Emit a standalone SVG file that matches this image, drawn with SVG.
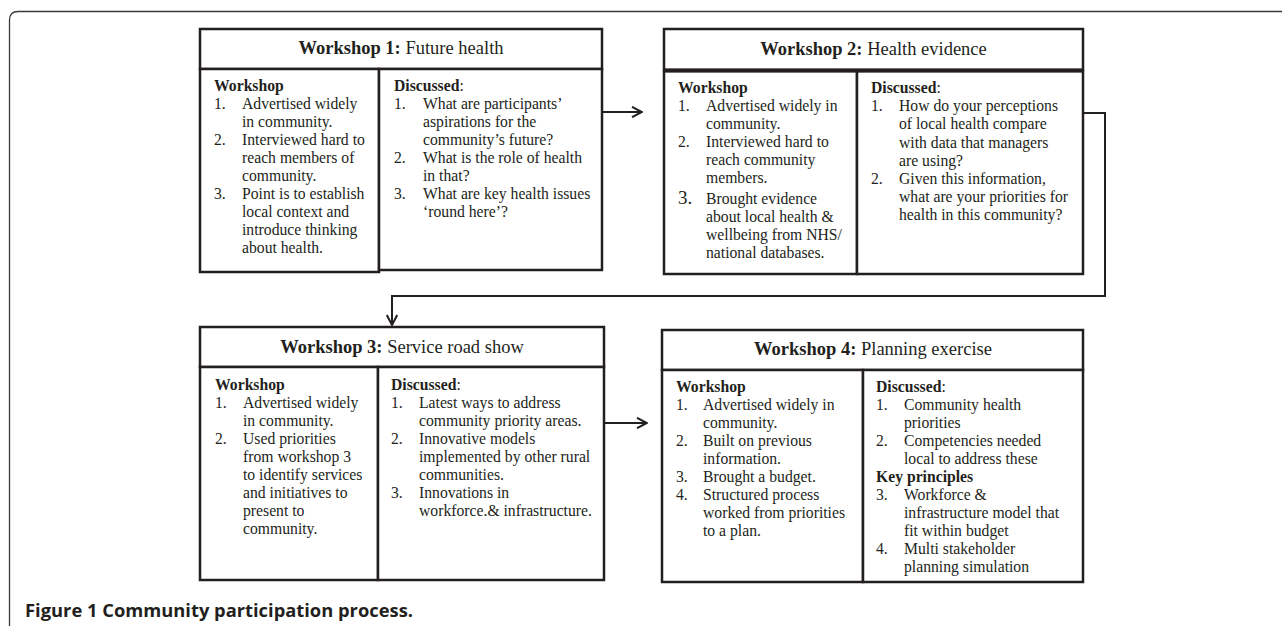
<svg xmlns="http://www.w3.org/2000/svg" width="1282" height="626" viewBox="0 0 1282 626">
<defs>
<style>
.box{fill:#fff;stroke:#231f20;stroke-width:2.5}
.t{font-family:"Liberation Serif","Times New Roman",serif;font-size:15.7px;fill:#231f20}
.ttl{font-family:"Liberation Serif","Times New Roman",serif;font-size:18.5px;fill:#231f20;text-anchor:middle}
.b{font-weight:bold}
.con{fill:none;stroke:#231f20;stroke-width:2}
.cap{font-family:"Open Sans","Noto Sans",sans-serif;font-weight:bold;font-size:17.5px;fill:#231f20}
</style>
<marker id="arr" viewBox="0 0 12 12" refX="11" refY="6" markerWidth="12" markerHeight="12" markerUnits="userSpaceOnUse" orient="auto">
<path d="M1,0.8 L11,6 L1,11.2" fill="none" stroke="#231f20" stroke-width="2"/>
</marker>
</defs>
<rect width="1282" height="626" fill="#fff"/>
<path d="M9.5,626 V20 Q9.5,11.5 18,11.5 H1282" fill="none" stroke="#3a3a3a" stroke-width="1.3"/>

<g id="connectors">
<path class="con" d="M602,112 H642" marker-end="url(#arr)"/>
<path class="con" d="M1083,113 H1105 V296 H392 V325" marker-end="url(#arr)"/>
<path class="con" d="M604,423 H647" marker-end="url(#arr)"/>
</g>

<g id="workshop1">
<rect class="box" x="200" y="29" width="402" height="40"/>
<rect class="box" x="200" y="69" width="179" height="203"/>
<rect class="box" x="379" y="69" width="223" height="201"/>
<text class="ttl" x="401" y="54"><tspan class="b">Workshop 1:</tspan> Future health</text>
<text class="t b" x="214" y="91">Workshop</text>
<text class="t" x="214" y="109">1.</text><text class="t" x="242" y="109">Advertised widely</text>
<text class="t" x="242" y="127">in community.</text>
<text class="t" x="214" y="145">2.</text><text class="t" x="242" y="145">Interviewed hard to</text>
<text class="t" x="242" y="163">reach members of</text>
<text class="t" x="242" y="181">community.</text>
<text class="t" x="214" y="199">3.</text><text class="t" x="242" y="199">Point is to establish</text>
<text class="t" x="242" y="217">local context and</text>
<text class="t" x="242" y="235">introduce thinking</text>
<text class="t" x="242" y="253">about health.</text>
<text class="t" x="394" y="91"><tspan class="b">Discussed</tspan>:</text>
<text class="t" x="394" y="109">1.</text><text class="t" x="423" y="109">What are participants’</text>
<text class="t" x="423" y="127">aspirations for the</text>
<text class="t" x="423" y="145">community’s future?</text>
<text class="t" x="394" y="163">2.</text><text class="t" x="423" y="163">What is the role of health</text>
<text class="t" x="423" y="181">in that?</text>
<text class="t" x="394" y="199">3.</text><text class="t" x="423" y="199">What are key health issues</text>
<text class="t" x="423" y="217">‘round here’?</text>
</g>

<g id="workshop2">
<rect class="box" x="664" y="29" width="419" height="41"/>
<rect class="box" x="664" y="71" width="193" height="203"/>
<rect class="box" x="857" y="71" width="226" height="203"/>
<line x1="664" y1="70.5" x2="1083" y2="70.5" stroke="#231f20" stroke-width="4"/>
<text class="ttl" x="873.5" y="55"><tspan class="b">Workshop 2:</tspan> Health evidence</text>
<text class="t b" x="678" y="93">Workshop</text>
<text class="t" x="678" y="111">1.</text><text class="t" x="706" y="111">Advertised widely in</text>
<text class="t" x="706" y="129">community.</text>
<text class="t" x="678" y="147">2.</text><text class="t" x="706" y="147">Interviewed hard to</text>
<text class="t" x="706" y="165">reach community</text>
<text class="t" x="706" y="183">members.</text>
<text class="t" x="678" y="204" style="font-size:19px">3.</text><text class="t" x="706" y="204">Brought evidence</text>
<text class="t" x="706" y="222">about local health &amp;</text>
<text class="t" x="706" y="240">wellbeing from NHS/</text>
<text class="t" x="706" y="258">national databases.</text>
<text class="t" x="871" y="93"><tspan class="b">Discussed</tspan>:</text>
<text class="t" x="871" y="111">1.</text><text class="t" x="899" y="111">How do your perceptions</text>
<text class="t" x="899" y="129">of local health compare</text>
<text class="t" x="899" y="147.5">with data that managers</text>
<text class="t" x="899" y="165.5">are using?</text>
<text class="t" x="871" y="184">2.</text><text class="t" x="899" y="184">Given this information,</text>
<text class="t" x="899" y="202">what are your priorities for</text>
<text class="t" x="899" y="220">health in this community?</text>
</g>

<g id="workshop3">
<rect class="box" x="200" y="327" width="404" height="40"/>
<rect class="box" x="200" y="367" width="178" height="213"/>
<rect class="box" x="378" y="367" width="226" height="213"/>
<text class="ttl" x="402" y="353"><tspan class="b">Workshop 3:</tspan> Service road show</text>
<text class="t b" x="215" y="390">Workshop</text>
<text class="t" x="215" y="408">1.</text><text class="t" x="243" y="408">Advertised widely</text>
<text class="t" x="243" y="426">in community.</text>
<text class="t" x="215" y="444">2.</text><text class="t" x="243" y="444">Used priorities</text>
<text class="t" x="243" y="462">from workshop 3</text>
<text class="t" x="243" y="480">to identify services</text>
<text class="t" x="243" y="498">and initiatives to</text>
<text class="t" x="243" y="516">present to</text>
<text class="t" x="243" y="534">community.</text>
<text class="t" x="391" y="390"><tspan class="b">Discussed</tspan>:</text>
<text class="t" x="391" y="408">1.</text><text class="t" x="419" y="408">Latest ways to address</text>
<text class="t" x="419" y="426">community priority areas.</text>
<text class="t" x="391" y="444">2.</text><text class="t" x="419" y="444">Innovative models</text>
<text class="t" x="419" y="462">implemented by other rural</text>
<text class="t" x="419" y="480">communities.</text>
<text class="t" x="391" y="498">3.</text><text class="t" x="419" y="498">Innovations in</text>
<text class="t" x="419" y="516">workforce.&amp; infrastructure.</text>
</g>

<g id="workshop4">
<rect class="box" x="662" y="330" width="421" height="40"/>
<rect class="box" x="662" y="370" width="201" height="212"/>
<rect class="box" x="863" y="370" width="220" height="212"/>
<text class="ttl" x="873" y="355"><tspan class="b">Workshop 4:</tspan> Planning exercise</text>
<text class="t b" x="676" y="392">Workshop</text>
<text class="t" x="676" y="410">1.</text><text class="t" x="703" y="410">Advertised widely in</text>
<text class="t" x="703" y="428">community.</text>
<text class="t" x="676" y="446">2.</text><text class="t" x="703" y="446">Built on previous</text>
<text class="t" x="703" y="464">information.</text>
<text class="t" x="676" y="482">3.</text><text class="t" x="703" y="482">Brought a budget.</text>
<text class="t" x="676" y="500">4.</text><text class="t" x="703" y="500">Structured process</text>
<text class="t" x="703" y="518">worked from priorities</text>
<text class="t" x="703" y="536">to a plan.</text>
<text class="t" x="876" y="392"><tspan class="b">Discussed</tspan>:</text>
<text class="t" x="876" y="410">1.</text><text class="t" x="904" y="410">Community health</text>
<text class="t" x="904" y="428">priorities</text>
<text class="t" x="876" y="446">2.</text><text class="t" x="904" y="446">Competencies needed</text>
<text class="t" x="904" y="464">local to address these</text>
<text class="t b" x="876" y="482">Key principles</text>
<text class="t" x="876" y="500">3.</text><text class="t" x="904" y="500">Workforce &amp;</text>
<text class="t" x="904" y="518">infrastructure model that</text>
<text class="t" x="904" y="536">fit within budget</text>
<text class="t" x="876" y="554">4.</text><text class="t" x="904" y="554">Multi stakeholder</text>
<text class="t" x="904" y="572">planning simulation</text>
</g>

<text class="cap" x="25" y="617" textLength="388" lengthAdjust="spacingAndGlyphs">Figure 1 Community participation process.</text>
</svg>
